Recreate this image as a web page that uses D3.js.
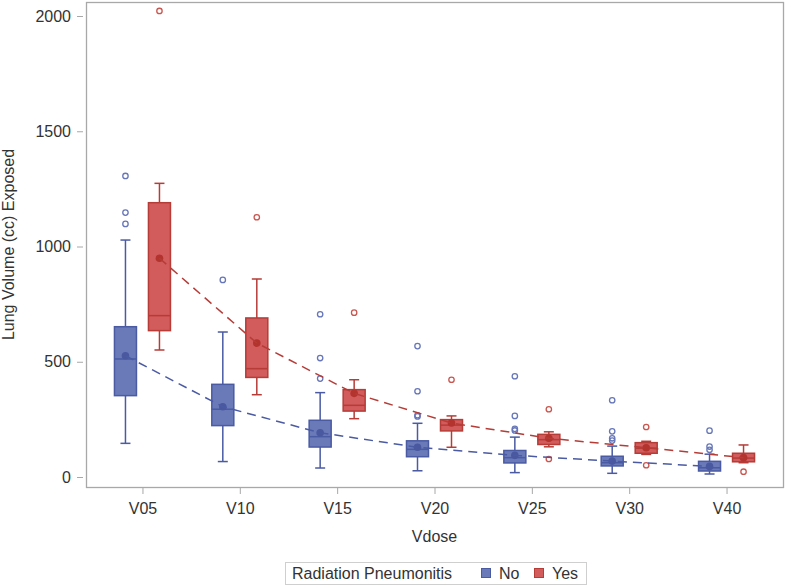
<!DOCTYPE html>
<html>
<head>
<meta charset="utf-8">
<script src="https://cdn.jsdelivr.net/npm/d3@7"></script>
<style>
  html, body { margin: 0; padding: 0; background: #fff; }
  svg { display: block; font-family: "Liberation Sans", Arial, sans-serif; }
  .axis text { fill: #333; font-size: 16px; }
  .axis line { stroke: #a8a8a8; }
  .axis path { display: none; }
</style>
</head>
<body>
<svg id="chart" width="787" height="586"></svg>
<script>
// categories on the x axis
const categories = ["V05", "V10", "V15", "V20", "V25", "V30", "V40"];
const yTicks = [0, 500, 1000, 1500, 2000];

// Radiation Pneumonitis = No
const noLow = [146, 67, 39, 27, 19, 16, 13];
const noQ1 = [353, 223, 130, 88, 61, 48, 26];
const noMedian = [512, 294, 175, 120, 84, 62, 40];
const noQ3 = [652, 402, 246, 157, 115, 90, 68];
const noHigh = [1028, 629, 366, 233, 173, 134, 99];
const noMean = [526, 305, 192, 129, 94, 69, 46];
const noOutliers = [[1098, 1147, 1306], [855], [427, 516, 706], [263, 268, 372, 568], [202, 209, 265, 437], [158, 168, 198, 333], [118, 132, 201]];

// Radiation Pneumonitis = Yes
const yesLow = [551, 357, 253, 129, 131, 98, 62];
const yesQ1 = [635, 432, 286, 200, 141, 103, 66];
const yesMedian = [700, 470, 311, 225, 162, 125, 82];
const yesQ3 = [1190, 690, 379, 249, 185, 149, 103];
const yesHigh = [1274, 859, 422, 265, 196, 155, 139];
const yesMean = [949, 581, 363, 234, 168, 127, 84];
const yesOutliers = [[2022], [1127], [713], [422], [78, 294], [51, 217], [23]];

const series = [
  { name: "No", offset: -17, fill: "#6a7ab9", stroke: "#4a5aa3", dot: "#4a58a0", ring: "#6676b8",
    low: noLow, q1: noQ1, median: noMedian, q3: noQ3, high: noHigh, mean: noMean, outliers: noOutliers },
  { name: "Yes", offset: 17, fill: "#d25b5b", stroke: "#b53c37", dot: "#b3332f", ring: "#c9564f",
    low: yesLow, q1: yesQ1, median: yesMedian, q3: yesQ3, high: yesHigh, mean: yesMean, outliers: yesOutliers }
];

const svg = d3.select("#chart");
const frame = { left: 86, right: 783, top: 2, bottom: 487 };

const x = d3.scalePoint().domain(categories).range([frame.left, frame.right]).padding(0.58);
const y = d3.scaleLinear().domain([0, 2000]).range([477, 16]);

const boxW = 22, capW = 10;

// frame
svg.append("rect")
  .attr("x", frame.left + 0.5).attr("y", frame.top + 0.5)
  .attr("width", frame.right - frame.left).attr("height", frame.bottom - frame.top)
  .attr("fill", "none").attr("stroke", "#a8a8a8").attr("stroke-width", 1.3);

// axes
svg.append("g").attr("class", "axis")
  .attr("transform", `translate(83,0)`)
  .call(d3.axisLeft(y).tickValues(yTicks).tickSize(6).tickPadding(6).tickFormat(d3.format("d")));

svg.append("g").attr("class", "axis")
  .attr("transform", `translate(0,${frame.bottom + 1})`)
  .call(d3.axisBottom(x).tickSize(6).tickPadding(9));

svg.append("text")
  .attr("transform", `translate(14,${(frame.top + frame.bottom) / 2}) rotate(-90)`)
  .attr("text-anchor", "middle").attr("fill", "#333").attr("font-size", 16)
  .text("Lung Volume (cc) Exposed");

svg.append("text")
  .attr("x", (frame.left + frame.right) / 2).attr("y", 542)
  .attr("text-anchor", "middle").attr("fill", "#333").attr("font-size", 16)
  .text("Vdose");

// boxes
series.forEach((s) => {
  const g = svg.append("g");
  categories.forEach((c, i) => {
    const cx = x(c) + s.offset;
    // whiskers
    g.append("line").attr("x1", cx).attr("x2", cx).attr("y1", y(s.q3[i])).attr("y2", y(s.high[i]))
      .attr("stroke", s.stroke).attr("stroke-width", 1.5);
    g.append("line").attr("x1", cx).attr("x2", cx).attr("y1", y(s.q1[i])).attr("y2", y(s.low[i]))
      .attr("stroke", s.stroke).attr("stroke-width", 1.5);
    [s.high[i], s.low[i]].forEach((v) => {
      g.append("line").attr("x1", cx - capW / 2).attr("x2", cx + capW / 2).attr("y1", y(v)).attr("y2", y(v))
        .attr("stroke", s.stroke).attr("stroke-width", 1.5);
    });
    g.append("rect")
      .attr("x", cx - boxW / 2).attr("y", y(s.q3[i]))
      .attr("width", boxW).attr("height", y(s.q1[i]) - y(s.q3[i]))
      .attr("fill", s.fill).attr("stroke", s.stroke).attr("stroke-width", 1.5);
    g.append("line").attr("x1", cx - boxW / 2).attr("x2", cx + boxW / 2)
      .attr("y1", y(s.median[i])).attr("y2", y(s.median[i]))
      .attr("stroke", s.stroke).attr("stroke-width", 1.5);
    g.append("circle").attr("cx", cx).attr("cy", y(s.mean[i])).attr("r", 3.8).attr("fill", s.dot);
    s.outliers[i].forEach((v) => {
      g.append("circle").attr("cx", cx).attr("cy", y(v)).attr("r", 2.7)
        .attr("fill", "none").attr("stroke", s.ring).attr("stroke-width", 1.3);
    });
  });
});

// dashed lines connecting means
const line = d3.line().x((d) => d[0]).y((d) => y(d[1]));
series.forEach((s) => {
  svg.append("path")
    .datum(categories.map((c, i) => [x(c) + s.offset, s.mean[i]]))
    .attr("d", line)
    .attr("fill", "none").attr("stroke", s.stroke).attr("stroke-width", 1.5)
    .attr("stroke-dasharray", "9,6");
});

// legend
const legend = svg.append("g");
legend.append("rect").attr("x", 285.5).attr("y", 562.5).attr("width", 301).attr("height", 22)
  .attr("fill", "#fff").attr("stroke", "#cfcfcf");
legend.append("text").attr("x", 292).attr("y", 579).attr("fill", "#333").attr("font-size", 16)
  .text("Radiation Pneumonitis");
const legendX = [481, 534];
series.forEach((s, i) => {
  legend.append("rect").attr("x", legendX[i] + 0.5).attr("y", 568.5).attr("width", 9).attr("height", 9)
    .attr("fill", s.fill).attr("stroke", s.stroke);
  legend.append("text").attr("x", legendX[i] + 18).attr("y", 579).attr("fill", "#333").attr("font-size", 16)
    .text(s.name);
});
</script>
</body>
</html>
